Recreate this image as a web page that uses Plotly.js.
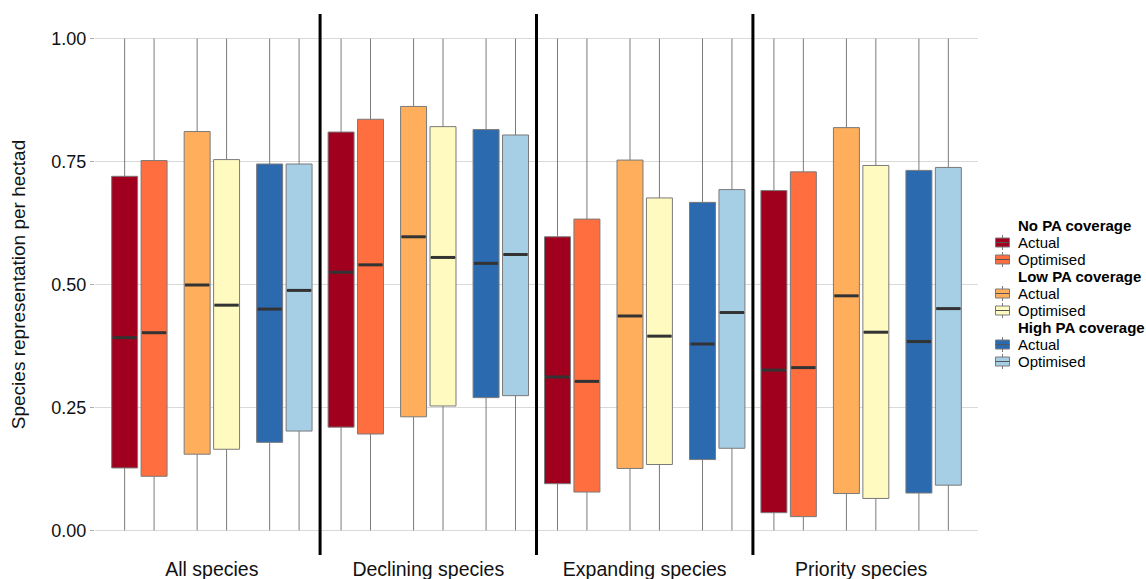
<!DOCTYPE html>
<html>
<head>
<meta charset="utf-8">
<script src="https://cdn.plot.ly/plotly-3.0.1.min.js"></script>
<style>
html,body{margin:0;padding:0;background:#fff;}
#chart{width:1146px;height:579px;}
</style>
</head>
<body>
<div id="chart"></div>
<script>
// ---- Data ----
const categories = ['All species', 'Declining species', 'Expanding species', 'Priority species'];
const yTickVals = [0, 0.25, 0.5, 0.75, 1];
const yTickText = ['0.00', '0.25', '0.50', '0.75', '1.00'];

const whiskerMin = [0, 0, 0, 0];
const whiskerMax = [1, 1, 1, 1];

// No PA coverage
const noActualQ1  = [0.127, 0.210, 0.095, 0.036];
const noActualMed = [0.392, 0.525, 0.312, 0.326];
const noActualQ3  = [0.720, 0.810, 0.597, 0.691];
const noOptQ1  = [0.110, 0.196, 0.078, 0.028];
const noOptMed = [0.402, 0.540, 0.303, 0.331];
const noOptQ3  = [0.752, 0.836, 0.633, 0.729];
// Low PA coverage
const lowActualQ1  = [0.155, 0.231, 0.126, 0.075];
const lowActualMed = [0.499, 0.597, 0.436, 0.477];
const lowActualQ3  = [0.811, 0.862, 0.753, 0.819];
const lowOptQ1  = [0.165, 0.253, 0.134, 0.065];
const lowOptMed = [0.458, 0.555, 0.395, 0.403];
const lowOptQ3  = [0.754, 0.821, 0.676, 0.742];
// High PA coverage
const highActualQ1  = [0.179, 0.270, 0.144, 0.076];
const highActualMed = [0.450, 0.543, 0.379, 0.384];
const highActualQ3  = [0.745, 0.815, 0.667, 0.732];
const highOptQ1  = [0.202, 0.274, 0.167, 0.092];
const highOptMed = [0.488, 0.561, 0.443, 0.451];
const highOptQ3  = [0.745, 0.804, 0.693, 0.738];

// ---- Styling / layout ----
const groupTitles = ['No PA coverage', 'Low PA coverage', 'High PA coverage'];
const series = [
  {g:0, name:'Actual',    q1:noActualQ1,   med:noActualMed,   q3:noActualQ3,   color:'#A0001E', off:-0.403},
  {g:0, name:'Optimised', q1:noOptQ1,      med:noOptMed,      q3:noOptQ3,      color:'#FF6E3E', off:-0.267},
  {g:1, name:'Actual',    q1:lowActualQ1,  med:lowActualMed,  q3:lowActualQ3,  color:'#FFAF5C', off:-0.068},
  {g:1, name:'Optimised', q1:lowOptQ1,     med:lowOptMed,     q3:lowOptQ3,     color:'#FFFAC0', off:0.068},
  {g:2, name:'Actual',    q1:highActualQ1, med:highActualMed, q3:highActualQ3, color:'#2B6AAF', off:0.267},
  {g:2, name:'Optimised', q1:highOptQ1,    med:highOptMed,    q3:highOptQ3,    color:'#A6CFE5', off:0.403}
];
const boxW = 0.12;
const FONT = 'Liberation Sans, Arial, sans-serif';
const OUTLINE = '#7a7a7a';

const M = {l:95, r:168, t:14, b:24};
const W = 1146, H = 579;
const plotW = W - M.l - M.r, plotH = H - M.t - M.b;
const px2x = X => (X - M.l) / plotW;
const px2y = Y => (H - M.b - Y) / plotH;

const traces = [];
series.forEach(s => {
  const xs = categories.map((c, i) => i + 1 + s.off);
  traces.push({
    type:'box', name:s.name, showlegend:false,
    x:xs, q1:s.q1, median:s.med, q3:s.q3,
    lowerfence:whiskerMin, upperfence:whiskerMax,
    width:boxW, whiskerwidth:0,
    fillcolor:s.color, line:{color:OUTLINE, width:1},
    hoverinfo:'skip'
  });
});
series.forEach(s => {
  const mx = [], my = [];
  categories.forEach((c, i) => {
    const p = i + 1 + s.off;
    mx.push(p - boxW/2 + 0.004, p + boxW/2 - 0.004, null);
    my.push(s.med[i], s.med[i], null);
  });
  traces.push({type:'scatter', mode:'lines', x:mx, y:my, showlegend:false,
    line:{color:'#333333', width:3}, hoverinfo:'skip'});
});

const shapes = [1.5, 2.5, 3.5].map(v => ({
  type:'line', xref:'x', yref:'paper', x0:v, x1:v, y0:0, y1:1,
  line:{color:'#000', width:3}
}));

// ---- Legend (ggplot style, grouped with bold headings) ----
const annotations = [];
const legTop = 225, legStep = 17, iconCx = 1002.5, textX = 1016;
let row = 0;
groupTitles.forEach((t, gi) => {
  const yT = legTop + row * legStep; row++;
  annotations.push({xref:'paper', yref:'paper', x:px2x(textX), y:px2y(yT), xanchor:'left', yanchor:'middle',
    text:'<b>' + t + '</b>', showarrow:false, font:{size:15, color:'#000', family:FONT}});
  series.filter(s => s.g === gi).forEach(s => {
    const yc = legTop + row * legStep + 0.5; row++;
    shapes.push({type:'line', xref:'paper', yref:'paper', x0:px2x(iconCx), x1:px2x(iconCx),
      y0:px2y(yc - 7.5), y1:px2y(yc + 7.5), line:{color:OUTLINE, width:1}});
    shapes.push({type:'rect', xref:'paper', yref:'paper', x0:px2x(iconCx - 7), x1:px2x(iconCx + 7),
      y0:px2y(yc - 4.5), y1:px2y(yc + 4.5), fillcolor:s.color, line:{color:OUTLINE, width:1}});
    shapes.push({type:'line', xref:'paper', yref:'paper', x0:px2x(iconCx - 7), x1:px2x(iconCx + 7),
      y0:px2y(yc), y1:px2y(yc), line:{color:'#555', width:1}});
    annotations.push({xref:'paper', yref:'paper', x:px2x(textX), y:px2y(yc), xanchor:'left', yanchor:'middle',
      text:s.name, showarrow:false, font:{size:15, color:'#000', family:FONT}});
  });
});

const layout = {
  width:W, height:H,
  margin:M,
  paper_bgcolor:'#fff', plot_bgcolor:'#fff',
  font:{family:FONT, color:'#222'},
  showlegend:false,
  xaxis:{range:[0.46, 4.54], tickvals:[1,2,3,4], ticktext:categories,
    showgrid:false, zeroline:false, showline:false, ticks:'',
    tickfont:{size:19.5, color:'#111'}, fixedrange:true},
  yaxis:{range:[-0.05, 1.05], tickvals:yTickVals, ticktext:yTickText,
    showgrid:true, gridcolor:'#d9d9d9', gridwidth:1, zeroline:false, showline:false,
    ticks:'outside', ticklen:4, tickcolor:'#aaaaaa',
    tickfont:{size:18, color:'#111'},
    title:{text:'Species representation per hectad', font:{size:19, color:'#111'}, standoff:20},
    fixedrange:true},
  shapes:shapes,
  annotations:annotations
};

Plotly.newPlot('chart', traces, layout, {staticPlot:true, displayModeBar:false});
</script>
</body>
</html>
